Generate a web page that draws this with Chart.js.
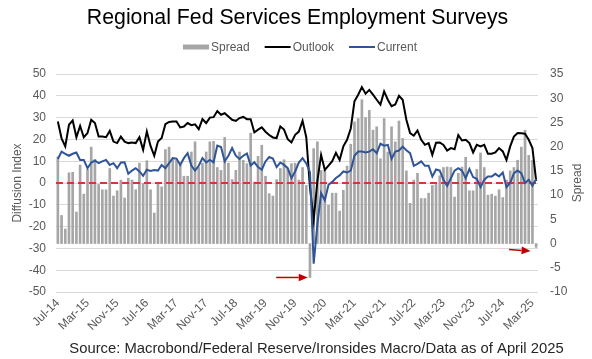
<!DOCTYPE html>
<html><head><meta charset="utf-8">
<script src="https://cdn.jsdelivr.net/npm/chart.js@4/dist/chart.umd.min.js"></script>
<style>html,body{margin:0;padding:0;background:#fff;} #wrap{width:592px;height:359px;}</style>
</head><body><div id="wrap"><canvas id="c" width="592" height="359"></canvas></div>
<script>
// ---- data (monthly, Jul-14 .. Apr-25) ----
const MONTHS = ['Jan','Feb','Mar','Apr','May','Jun','Jul','Aug','Sep','Oct','Nov','Dec'];
const categories = [];
for (let i = 0; i < 130; i++) { const k = 6 + i; categories.push(MONTHS[k % 12] + '-' + (14 + Math.floor(k / 12))); }
const tickLabels = ['Jul-14','Mar-15','Nov-15','Jul-16','Mar-17','Nov-17','Jul-18','Mar-19','Nov-19','Jul-20','Mar-21','Nov-21','Jul-22','Mar-23','Nov-23','Jul-24','Mar-25'];

const outlook = [28.2,20.5,16.8,26.7,28.7,21,26.2,21,22.9,29,27.5,21.3,21.3,21,23.9,19,18.3,21.3,19,18.3,
 18.6,18.3,21,15.2,23.6,17,12.5,19,20.6,27,28,28.2,28.2,25.5,25.9,27.5,26.5,26.9,24.7,29.3,
 27.5,30,30.2,33,31.3,32,30.5,29,28.5,29.8,30.3,29.3,29.3,23.2,24.5,25.5,23.5,22,20.9,20.6,
 25.9,24.5,20.1,18.6,22.1,23.6,28.5,21,-2,-17,1,12.9,6,8,10,13.8,10.5,16.8,19.8,25,
 37.5,40.5,44,41,42.7,40.5,38.2,36,42,38.2,35.2,36,40,38.2,29,22.9,21.7,24.1,19.8,17.5,
 18.3,12.9,18.5,18.6,17.5,14.9,16,15.5,22,19.5,19.8,18.3,14,17.5,16.8,17.5,13.4,13.4,14,16,
 14.5,10.6,16.8,21.3,22.9,22.8,22.6,19.8,16,1];
const current = [11,14.4,13.4,12.5,13.4,14,10.6,10.6,6.8,9.4,10.3,9.1,9.9,10.6,8.3,9.1,6.8,9.4,9.5,4.2,
 5.7,6.8,5.3,3.3,6.1,5.5,6,5.7,8.3,6.8,9.1,11.4,11.2,8.3,11.4,13.7,8,5.7,7.9,11.4,
 9.4,10.6,9.5,17.2,16.5,9.9,12.5,16,12.5,11,12.5,13.5,8,9.5,7.3,6.1,9.9,11.9,11.2,7.3,
 9.4,8.3,6.8,2.2,5.3,9.4,11.4,9,5,-37,-19,-4.6,-8,-0.8,0.5,2.3,3.5,5.3,4.8,5.7,
 12.5,14.4,14.4,14,14.4,15.5,13.7,18,17.1,17.5,11,14.4,14.9,16.7,15,13.7,7.9,8.8,9.9,7.9,
 7.9,3,6.2,5.7,1.5,-1.3,2.2,5.7,6.8,5.7,2.2,6.4,2.7,1.9,-1.9,1.5,3,3,4.2,3,
 4.8,-1.9,0,4.5,5.7,4.5,0,1.5,-1.3,1.8];
const spread = [17.9,5.8,3.0,14.6,14.7,6.5,16.2,10.2,15.3,19.9,17.4,12.2,11.1,11.1,15.5,9.8,10.9,13.1,9.4,13.5,
 13.1,11.1,16.6,12.4,17.1,11.1,6.3,12.5,11.7,19.4,19.9,17.2,17.2,16.2,13.9,13.9,18.9,21,15.7,16.6,
 18.9,21,21.1,15.7,15.1,21.9,16.6,13.2,15.1,18.9,17.2,16.5,22.8,12.7,18,20.3,13.9,10.3,9.8,13.2,
 15.5,17.3,15.5,16.5,16.6,13.1,15.7,12,-7,19.6,21,15.1,15.1,7.9,10.4,10.4,6.7,11,16,20.5,
 25.1,25.8,29.7,26,27.5,23.4,24.1,17.5,25.8,18.9,24.1,21,25.3,21.7,15,8.3,13.1,14.5,9.3,9.3,
 10.4,12,12.2,14,15.7,15.8,15.7,9.6,14.5,15.8,17.8,10.9,10.9,15.3,18.7,15.7,10,10.2,9.8,11.1,
 9.5,13.1,15,15.7,17.2,19.9,23.4,18.2,17.2,-0.8];
// annotation arrows: [fromIndex, fromSpread, toIndex, toSpread] on the right (Spread) axis
const arrows = [[58.9,-7,67.4,-7],[121.7,-1.24,127.5,-1.53]];

const FONT = "'Liberation Sans', Arial, sans-serif";
const GREY_TXT = '#595959';
const RED = '#C00000';

const overlay = {
  id: 'overlay',
  afterDatasetDraw(chart, args) {
    if (args.index !== 0) return;
    const ctx = chart.ctx, a = chart.chartArea, y = chart.scales.y.getPixelForValue(0);
    ctx.save();
    ctx.strokeStyle = '#D9343A'; ctx.lineWidth = 2; ctx.setLineDash([7, 4]);
    ctx.beginPath(); ctx.moveTo(a.left, y); ctx.lineTo(a.right, y); ctx.stroke();
    ctx.restore();
  },
  afterDatasetsDraw(chart) {
    const ctx = chart.ctx, xs = chart.scales.x, ys = chart.scales.y1;
    ctx.save();
    ctx.strokeStyle = RED; ctx.fillStyle = RED; ctx.lineWidth = 1.5;
    for (const [i1, v1, i2, v2] of arrows) {
      const x1 = xs.getPixelForValue(i1), y1 = ys.getPixelForValue(v1);
      const x2 = xs.getPixelForValue(i2), y2 = ys.getPixelForValue(v2);
      const ang = Math.atan2(y2 - y1, x2 - x1), L = 9, W = 3.8;
      const bx = x2 - L * Math.cos(ang), by = y2 - L * Math.sin(ang);
      ctx.beginPath(); ctx.moveTo(x1, y1); ctx.lineTo(bx, by); ctx.stroke();
      ctx.beginPath(); ctx.moveTo(x2, y2);
      ctx.lineTo(bx + W * Math.sin(ang), by - W * Math.cos(ang));
      ctx.lineTo(bx - W * Math.sin(ang), by + W * Math.cos(ang));
      ctx.closePath(); ctx.fill();
    }
    ctx.restore();
  },
  afterDraw(chart) {
    const ctx = chart.ctx, a = chart.chartArea;
    ctx.save();
    // title
    ctx.fillStyle = '#000'; ctx.font = '21.3px ' + FONT; ctx.textAlign = 'center'; ctx.textBaseline = 'middle';
    ctx.fillText('Regional Fed Services Employment Surveys', 297.5, 18);
    // legend
    ctx.font = '12px ' + FONT; ctx.textAlign = 'left';
    const items = [
      {t: 'Spread', draw: (x) => { ctx.fillStyle = '#A6A6A6'; ctx.fillRect(x, 44.5, 26, 5); }},
      {t: 'Outlook', draw: (x) => { ctx.strokeStyle = '#000'; ctx.lineWidth = 2; ctx.beginPath(); ctx.moveTo(x, 47); ctx.lineTo(x + 26, 47); ctx.stroke(); }},
      {t: 'Current', draw: (x) => { ctx.strokeStyle = '#2F5597'; ctx.lineWidth = 2; ctx.beginPath(); ctx.moveTo(x, 47); ctx.lineTo(x + 26, 47); ctx.stroke(); }}
    ];
    const SYM = 26, GAP = 2, SP = 15;
    let total = 0; items.forEach((it, k) => { it.w = ctx.measureText(it.t).width; total += SYM + GAP + it.w + (k ? SP : 0); });
    let x = 300 - total / 2;
    items.forEach((it) => { it.draw(x); ctx.fillStyle = GREY_TXT; ctx.fillText(it.t, x + SYM + GAP, 47.5); x += SYM + GAP + it.w + SP; });
    // axis titles
    ctx.fillStyle = GREY_TXT; ctx.textAlign = 'center';
    const cy = (a.top + a.bottom) / 2;
    ctx.save(); ctx.translate(18, cy); ctx.rotate(-Math.PI / 2); ctx.fillText('Diffusion Index', 0, 0); ctx.restore();
    ctx.save(); ctx.translate(578, cy); ctx.rotate(-Math.PI / 2); ctx.fillText('Spread', 0, 0); ctx.restore();
    // source
    ctx.fillStyle = '#262626'; ctx.font = '14.8px ' + FONT;
    ctx.fillText('Source: Macrobond/Federal Reserve/Ironsides Macro/Data as of April 2025', 316.5, 349);
    ctx.restore();
  }
};

new Chart(document.getElementById('c'), {
  data: {
    labels: categories,
    datasets: [
      {type: 'bar', label: 'Spread', data: spread, yAxisID: 'y1', backgroundColor: '#A6A6A6', barThickness: 2, order: 3},
      {type: 'line', label: 'Outlook', data: outlook, yAxisID: 'y', borderColor: '#000000', borderWidth: 2, pointRadius: 0, tension: 0, fill: false, order: 2},
      {type: 'line', label: 'Current', data: current, yAxisID: 'y', borderColor: '#2F5597', borderWidth: 2, pointRadius: 0, tension: 0, fill: false, order: 1}
    ]
  },
  options: {
    responsive: false, animation: false, devicePixelRatio: 1,
    layout: {padding: {top: 74, left: 0, right: 0, bottom: 0}},
    plugins: {legend: {display: false}, title: {display: false}, tooltip: {enabled: false}},
    scales: {
      x: {type: 'category', offset: true, grid: {display: false, drawTicks: false}, border: {display: false},
          ticks: {autoSkip: false, maxRotation: 45, minRotation: 45, padding: 4, color: GREY_TXT, font: {family: FONT, size: 12},
                  callback: (v, i) => tickLabels.includes(categories[i]) ? categories[i] : ''},
          afterFit: (s) => { s.height = 67; }},
      y: {position: 'left', min: -50, max: 50, ticks: {stepSize: 10, padding: 10, color: GREY_TXT, font: {family: FONT, size: 12}},
          grid: {color: '#D9D9D9', drawTicks: false, lineWidth: 1}, border: {display: false},
          afterFit: (s) => { s.width = 56; }},
      y1: {position: 'right', min: -10, max: 35, ticks: {stepSize: 5, padding: 12, color: GREY_TXT, font: {family: FONT, size: 12}},
           grid: {display: false, drawTicks: false}, border: {display: false},
           afterFit: (s) => { s.width = 54; }}
    }
  },
  plugins: [overlay]
});
</script></body></html>
